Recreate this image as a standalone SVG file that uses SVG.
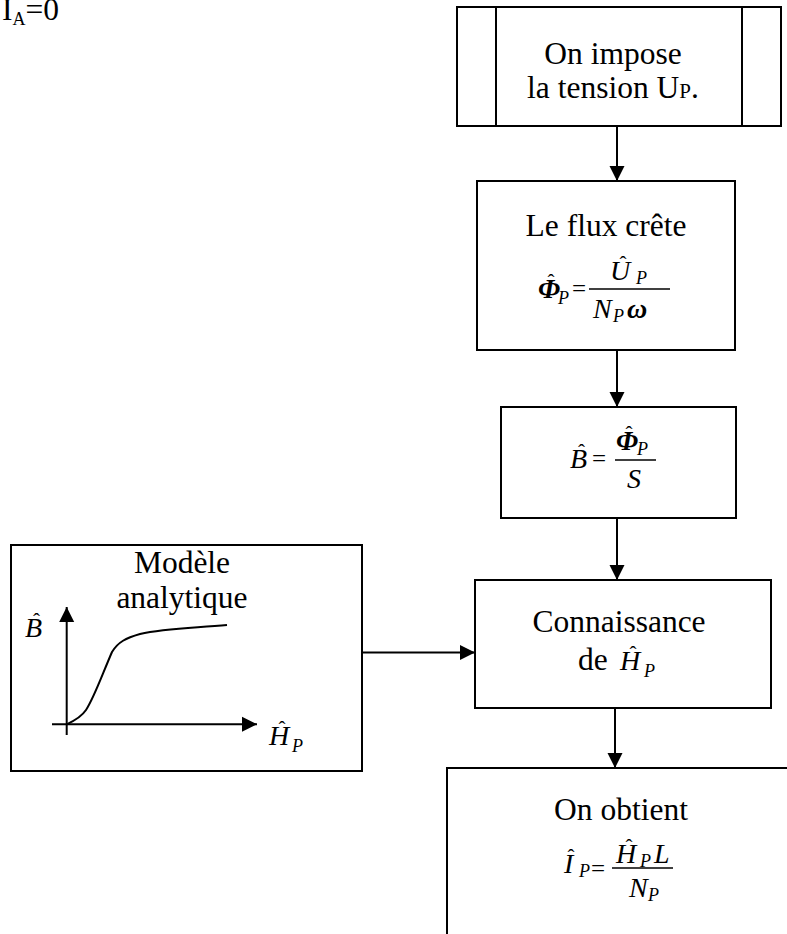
<svg xmlns="http://www.w3.org/2000/svg" width="787" height="934" viewBox="0 0 787 934">
<defs>
<marker id="ah" markerUnits="userSpaceOnUse" markerWidth="16" markerHeight="16" viewBox="0 0 16 16" refX="15" refY="8" orient="auto">
<path d="M0,0.5 L15,8 L0,15.5 Z" fill="#000"/>
</marker>
<style>
.box{fill:#fff;stroke:#000;stroke-width:2}
.ln{fill:none;stroke:#000;stroke-width:2}
.bar{stroke:#000;stroke-width:1.5}
.t{font-family:"Liberation Serif","Times New Roman",serif;font-size:31.5px;fill:#000}
.m{font-family:"Liberation Serif","Times New Roman",serif;font-size:28px;font-style:italic;fill:#000}
.mb{font-family:"Liberation Serif","Times New Roman",serif;font-size:28px;font-style:italic;font-weight:bold;fill:#000}
.s{font-family:"Liberation Serif","Times New Roman",serif;font-size:18px;font-style:italic;fill:#000}
.r{font-family:"Liberation Serif","Times New Roman",serif;font-size:25px;fill:#000}
.h{font-family:"Liberation Serif","Times New Roman",serif;font-size:21px;fill:#000;text-anchor:middle}
</style>
</defs>
<rect width="787" height="934" fill="#fff"/>

<g id="label-ia">
<text class="t" x="2" y="20" font-size="28">I<tspan font-size="18" dy="5">A</tspan><tspan dy="-5">=0</tspan></text>
</g>

<g id="connectors">
<line class="ln" x1="617" y1="126" x2="617" y2="181" marker-end="url(#ah)"/>
<line class="ln" x1="617" y1="350" x2="617" y2="407" marker-end="url(#ah)"/>
<line class="ln" x1="617" y1="518" x2="617" y2="580" marker-end="url(#ah)"/>
<line class="ln" x1="615" y1="708" x2="615" y2="768" marker-end="url(#ah)"/>
<line class="ln" x1="362" y1="652.5" x2="475" y2="652.5" marker-end="url(#ah)"/>
</g>

<g id="node-impose">
<rect class="box" x="457" y="7" width="324" height="119"/>
<line class="ln" x1="496" y1="7" x2="496" y2="126"/>
<line class="ln" x1="742" y1="7" x2="742" y2="126"/>
<text class="t" x="613" y="64" text-anchor="middle">On impose</text>
<text class="t" x="613" y="98" text-anchor="middle">la tension U<tspan font-size="21">P</tspan>.</text>
</g>

<g id="node-flux">
<rect class="box" x="477" y="181" width="258" height="169"/>
<text class="t" x="606" y="236" text-anchor="middle">Le flux crête</text>
<text class="mb" x="538" y="298">Φ</text>
<text class="h" x="551" y="289">ˆ</text>
<text class="s" x="558" y="304">P</text>
<text class="r" x="572" y="297">=</text>
<line class="bar" x1="589" y1="289" x2="670" y2="289"/>
<text class="m" x="610" y="280">U</text>
<text class="h" x="623" y="271">ˆ</text>
<text class="s" x="636" y="284">P</text>
<text class="m" x="593" y="318">N</text>
<text class="s" x="613" y="322">P</text>
<text class="mb" x="627" y="318">ω</text>
</g>

<g id="node-b">
<rect class="box" x="501" y="407" width="235" height="111"/>
<text class="m" x="570" y="468">B</text>
<text class="h" x="581.5" y="459">ˆ</text>
<text class="r" x="592" y="467">=</text>
<line class="bar" x1="615" y1="460" x2="656" y2="460"/>
<text class="mb" x="616" y="450">Φ</text>
<text class="h" x="629" y="441">ˆ</text>
<text class="s" x="637" y="455">P</text>
<text class="m" x="627" y="488">S</text>
</g>

<g id="node-model">
<rect class="box" x="11" y="545" width="351" height="226"/>
<text class="t" x="182" y="573" text-anchor="middle">Modèle</text>
<text class="t" x="182" y="608" text-anchor="middle">analytique</text>
<line class="ln" x1="66.7" y1="735" x2="66.7" y2="607" marker-end="url(#ah)"/>
<line class="ln" x1="52" y1="724.3" x2="257" y2="724.3" marker-end="url(#ah)"/>
<path class="ln" d="M66.7,724.3 C76,720 82,716 86,710 C94,698 102,675 112,652 C118,642 126,638 140,634 C165,628 195,628 227,625"/>
<text class="m" x="25" y="637">B</text>
<text class="h" x="36.5" y="628">ˆ</text>
<text class="m" x="269" y="745">H</text>
<text class="h" x="282" y="736">ˆ</text>
<text class="s" x="292" y="752">P</text>
</g>

<g id="node-connaissance">
<rect class="box" x="475" y="580" width="296" height="128"/>
<text class="t" x="619" y="632" text-anchor="middle">Connaissance</text>
<text class="t" x="578" y="670">de</text>
<text class="m" x="620" y="670">H</text>
<text class="h" x="633" y="661">ˆ</text>
<text class="s" x="644" y="677">P</text>
</g>

<g id="node-obtient">
<rect class="box" x="447" y="768" width="400" height="200"/>
<text class="t" x="621" y="820" text-anchor="middle">On obtient</text>
<text class="m" x="564" y="873">I</text>
<text class="h" x="571" y="864">ˆ</text>
<text class="s" x="579" y="877">P</text>
<text class="r" x="591" y="877" font-size="15">=</text>
<line class="bar" x1="612" y1="868" x2="673" y2="868"/>
<text class="m" x="616" y="863">H</text>
<text class="h" x="629" y="854">ˆ</text>
<text class="s" x="640" y="867">P</text>
<text class="m" x="654" y="863">L</text>
<text class="m" x="629" y="897">N</text>
<text class="s" x="648" y="901">P</text>
</g>
</svg>
